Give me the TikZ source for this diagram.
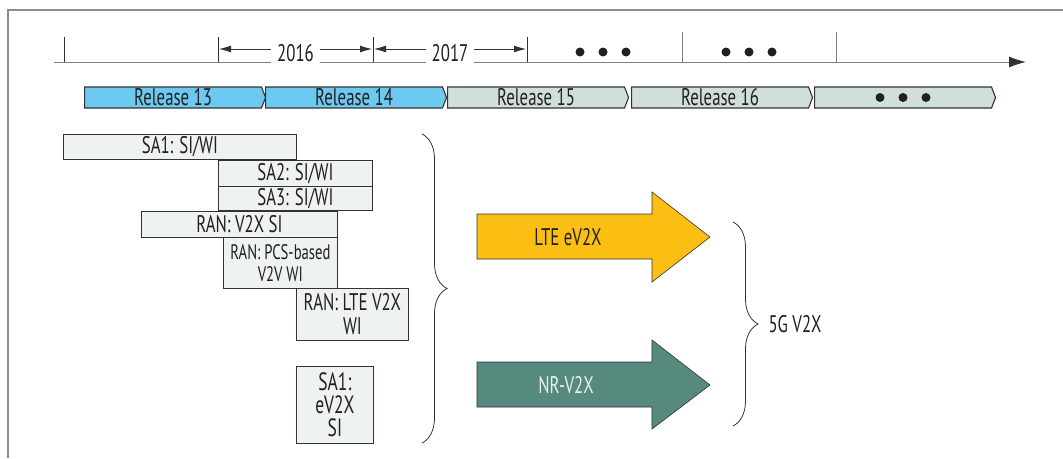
\documentclass[tikz,border=0pt]{standalone}
\usepackage{fontspec}
\setmainfont{PT Sans}[FakeStretch=0.7]
\usetikzlibrary{arrows.meta,shapes.symbols,decorations.pathreplacing}
\definecolor{relblue}{HTML}{6DC9F0}
\definecolor{relgray}{HTML}{D0DFD9}
\definecolor{boxfill}{HTML}{EEF3F0}
\definecolor{lteyellow}{HTML}{FBBF14}
\definecolor{nrteal}{HTML}{568A7E}
\definecolor{nrtext}{HTML}{E8F0EE}
\definecolor{inkgray}{HTML}{333333}
\definecolor{inktext}{HTML}{231F20}
\definecolor{framegray}{HTML}{8C8C8C}
\tikzset{
    lbl/.style={text=inktext, font=\fontsize{24}{24}\selectfont},
    relbar/.style={lbl, signal, signal to=east, signal pointer angle=138, draw=inkgray, line width=1.1pt,
        minimum width=181pt, minimum height=21pt, inner sep=0pt, anchor=west},
    specbox/.style={lbl, draw=inkgray, fill=boxfill, line width=0.8pt, inner sep=0pt, anchor=north west, align=center},
    dimline/.style={{Latex[length=12pt,width=7pt]}-{Latex[length=12pt,width=7pt]}, draw=inkgray, line width=0.8pt},
    yearlbl/.style={lbl, fill=white, inner xsep=6pt, inner ysep=1pt, yshift=-4.5pt},
    tickline/.style={draw=inkgray, line width=0.9pt},
    bigbrace/.style={decorate, decoration={brace, amplitude=25pt}, draw=inkgray, line width=0.8pt},
    blockarrow/.style={draw=inkgray, line width=0.6pt},
}
\begin{document}
\begin{tikzpicture}[x=1pt, y=-1pt]
            \useasboundingbox (0,0) rectangle (1063,458);
            \draw[framegray, line width=1.5pt] (8,458) -- (8,10) -- (1063,10);
            % time axis
            \coordinate (axs) at (54,62);
            \coordinate (axe) at (1026,62);
            \draw[-{Latex[length=17pt,width=11pt,fill=inkgray,color=inkgray]}, draw=gray, line width=0.9pt] (axs) -- (axe);
            \foreach \x in {64,218,373,527} \draw[tickline] (\x,37) -- (\x,62);
            \foreach \x in {682,836} \draw[tickline, draw=gray] (\x,32) -- (\x,62);
            \coordinate (d16a) at (219,49);
            \coordinate (d16b) at (372,49);
            \coordinate (d17a) at (374,49);
            \coordinate (d17b) at (526,49);
            \draw[dimline] (d16a) -- node[yearlbl] (y2016) {2016} (d16b);
            \draw[dimline] (d17a) -- node[yearlbl] (y2017) {2017} (d17b);
            \foreach \x in {580,603,626,726,749,772} \fill[inktext] (\x,52) circle (4.5);
            % releases
            \node[relbar, fill=relblue] (rel13) at (84,97.5) {Release 13};
            \node[relbar, fill=relblue] (rel14) at (265,97.5) {Release 14};
            \node[relbar, fill=relgray] (rel15) at (447,97.5) {Release 15};
            \node[relbar, fill=relgray] (rel16) at (631,97.5) {Release 16};
            \node[relbar, fill=relgray] (reldots) at (814,97.5) {};
            \foreach \x in {880,903,926} \fill[inktext] (\x,97.5) circle (4.5);
            % study and work items
            \node[specbox, minimum width=233pt, minimum height=25pt] (sasiwi) at (63,134) {SA1: SI/WI};
            \node[specbox, minimum width=154pt, minimum height=26pt] (satwo) at (218,160) {SA2: SI/WI};
            \node[specbox, minimum width=154pt, minimum height=24pt] (sathree) at (218,186) {SA3: SI/WI};
            \node[specbox, minimum width=196pt, minimum height=26pt] (ransi) at (141,211) {RAN: V2X SI};
            \node[specbox, minimum width=114pt, minimum height=51pt, font=\fontsize{21}{22}\selectfont] (ranpcs) at (223,237) {RAN: PCS-based\\V2V WI};
            \node[specbox, minimum width=112pt, minimum height=52pt, font=\fontsize{24}{24}\selectfont] (ranlte) at (296,288) {RAN: LTE V2X\\WI};
            \node[specbox, minimum width=77pt, minimum height=77pt, font=\fontsize{25}{23}\selectfont] (saev) at (296,366) {SA1:\\eV2X\\SI};
            \coordinate (bra) at (422,134);
            \coordinate (brb) at (422,443);
            \draw[bigbrace] (bra) -- (brb);
            % outcomes
            \filldraw[blockarrow, fill=lteyellow] (477,214) -- (652,214) -- (652,192) -- (710,237) -- (652,282) -- (652,259) -- (477,259) -- cycle;
            \node[lbl] (lte) at (568,237) {LTE eV2X};
            \filldraw[blockarrow, fill=nrteal] (477,362) -- (652,362) -- (652,340) -- (710,385) -- (652,429) -- (652,407) -- (477,407) -- cycle;
            \node[lbl, text=nrtext] (nr) at (566,385) {NR-V2X};
            \coordinate (brc) at (733,222);
            \coordinate (brd) at (733,426);
            \draw[bigbrace] (brc) -- (brd);
            \node[lbl, anchor=west] (fiveg) at (765,324) {5G V2X};
        \end{tikzpicture}
\end{document}
